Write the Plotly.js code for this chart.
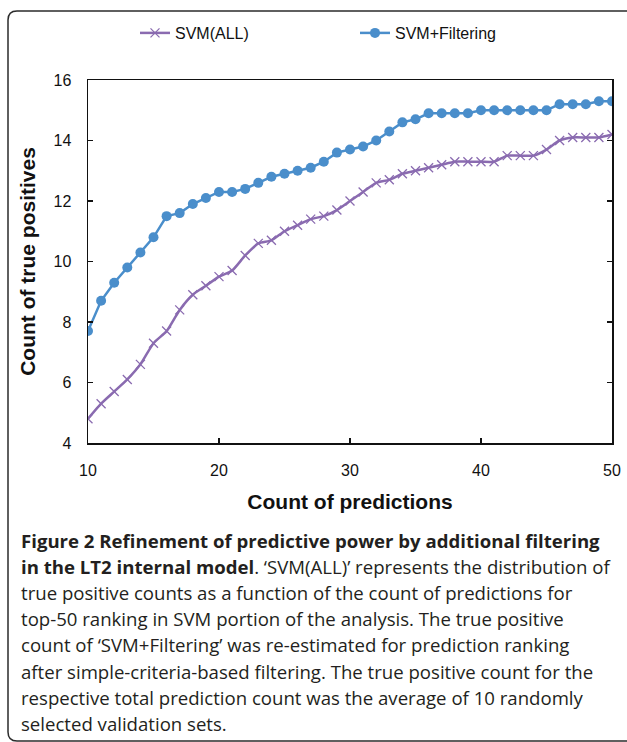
<!DOCTYPE html>
<html>
<head>
<meta charset="utf-8">
<script src="https://cdn.plot.ly/plotly-3.0.1.min.js"></script>
<style>
html,body{margin:0;padding:0;background:#fff;}
#chart{width:627px;height:742px;}
</style>
</head>
<body>
<div id="chart"></div>
<script>
// ---- data ----
var predictions = [10,11,12,13,14,15,16,17,18,19,20,21,22,23,24,25,26,27,28,29,30,31,32,33,34,35,36,37,38,39,40,41,42,43,44,45,46,47,48,49,50];
var svmAll = [4.8,5.3,5.7,6.1,6.6,7.3,7.7,8.4,8.9,9.2,9.5,9.7,10.2,10.6,10.7,11.0,11.2,11.4,11.5,11.7,12.0,12.3,12.6,12.7,12.9,13.0,13.1,13.2,13.3,13.3,13.3,13.3,13.5,13.5,13.5,13.7,14.0,14.1,14.1,14.1,14.2];
var svmFiltering = [7.7,8.7,9.3,9.8,10.3,10.8,11.5,11.6,11.9,12.1,12.3,12.3,12.4,12.6,12.8,12.9,13.0,13.1,13.3,13.6,13.7,13.8,14.0,14.3,14.6,14.7,14.9,14.9,14.9,14.9,15.0,15.0,15.0,15.0,15.0,15.0,15.2,15.2,15.2,15.3,15.3];
var seriesNames = ["SVM(ALL)", "SVM+Filtering"];
var xTicks = [10,20,30,40,50];
var yTicks = [4,6,8,10,12,14,16];
var xTitle = "Count of predictions";
var yTitle = "Count of true positives";
var captionLines = [
  "<b>Figure 2 Refinement of predictive power by additional filtering</b>",
  "<b>in the LT2 internal model</b>. \u2018SVM(ALL)\u2019 represents the distribution of",
  "true positive counts as a function of the count of predictions for",
  "top-50 ranking in SVM portion of the analysis. The true positive",
  "count of \u2018SVM+Filtering\u2019 was re-estimated for prediction ranking",
  "after simple-criteria-based filtering. The true positive count for the",
  "respective total prediction count was the average of 10 randomly",
  "selected validation sets."
];

// ---- layout geometry (pixels) ----
var W = 627, H = 742;
var L = 88, R = 612, T = 80, B = 443;
function px(x){ return (x - L) / (R - L); }
function py(y){ return (B - y) / (B - T); }

var purple = "#8a6bb0";
var blue = "#4a8ecb";

var traces = [
  {
    x: predictions, y: svmAll, name: seriesNames[0], type: "scatter", mode: "lines+markers",
    line: {color: purple, width: 2.5, shape: "spline", smoothing: 0.6},
    marker: {symbol: "x-thin", size: 9, color: purple, line: {color: purple, width: 1.3}}
  },
  {
    x: predictions, y: svmFiltering, name: seriesNames[1], type: "scatter", mode: "lines+markers",
    line: {color: blue, width: 2.5},
    marker: {symbol: "circle", size: 10, color: blue}
  }
];

var annotations = captionLines.map(function(t, i){
  return {
    xref: "paper", yref: "paper", x: px(19), y: py(540 + i * 26.2),
    xanchor: "left", yanchor: "middle", showarrow: false, align: "left",
    text: t, font: {family: "Open Sans", size: 18.6, color: "#231f20"}
  };
});

var border = {
  type: "path", xref: "paper", yref: "paper", layer: "above",
  path: "M" + px(660) + "," + py(11) +
        " L" + px(17) + "," + py(11) +
        " Q" + px(8) + "," + py(11) + " " + px(8) + "," + py(20) +
        " L" + px(8) + "," + py(732) +
        " Q" + px(8) + "," + py(741) + " " + px(17) + "," + py(741) +
        " L" + px(660) + "," + py(741),
  line: {color: "#2b2b2b", width: 1.5}
};

var layout = {
  width: W, height: H,
  margin: {l: L, r: W - R, t: T, b: H - B, pad: 0},
  paper_bgcolor: "#fff", plot_bgcolor: "#fff",
  font: {family: "Liberation Sans, Arial, sans-serif", color: "#111"},
  showlegend: true,
  legend: {
    orientation: "h", x: px(135), y: py(33), xanchor: "left", yanchor: "middle",
    font: {size: 16, color: "#111"}, itemwidth: 30, entrywidth: 175, entrywidthmode: "pixels",
    bgcolor: "rgba(0,0,0,0)"
  },
  xaxis: {
    range: [10, 50], tickvals: xTicks, ticktext: xTicks.map(String),
    ticks: "inside", ticklen: 5, tickwidth: 1.5, tickcolor: "#111",
    showline: true, linecolor: "#111", linewidth: 1.5, mirror: true,
    showgrid: false, zeroline: false, ticklabelstandoff: 12,
    tickfont: {size: 16, color: "#111"},
    title: {text: "<b>" + xTitle + "</b>", font: {size: 21, color: "#111"}, standoff: 16}
  },
  yaxis: {
    range: [4, 16], tickvals: yTicks, ticktext: yTicks.map(String),
    ticks: "inside", ticklen: 5, tickwidth: 1.5, tickcolor: "#111",
    showline: true, linecolor: "#111", linewidth: 1.5, mirror: "ticks",
    showgrid: false, zeroline: false, ticklabelstandoff: 12,
    tickfont: {size: 16, color: "#111"},
    title: {text: "<b>" + yTitle + "</b>", font: {size: 21, color: "#111"}, standoff: 12}
  },
  annotations: annotations,
  shapes: [border]
};

Plotly.newPlot("chart", traces, layout, {displayModeBar: false, staticPlot: true});
</script>
</body>
</html>
